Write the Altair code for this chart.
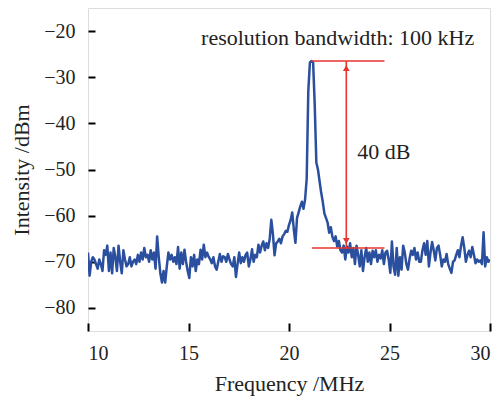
import altair as alt
import pandas as pd

intensity = [
    -68.0, -73.0, -70.0, -69.0, -69.5, -70.5, -71.5, -69.5, -70.5, -72.0, -67.5, -68.5, -66.5,
    -72.0, -68.0, -72.5, -67.0, -69.0, -72.0, -66.5, -70.0, -72.5, -67.5, -69.5, -71.0,
    -70.5, -69.0, -71.0, -70.0, -69.5, -70.5, -68.5, -70.0, -68.0, -69.5, -67.0, -69.0, -68.5,
    -70.0, -67.5, -69.5, -68.0, -71.5, -64.5, -69.0, -72.5, -74.5, -72.0, -74.5, -71.0,
    -68.0, -69.5, -68.5, -70.0, -69.0, -70.5, -66.8, -71.5, -68.0, -70.5, -67.4, -70.0, -72.0,
    -73.5, -69.0, -71.0, -68.5, -72.0, -69.5, -70.5, -67.4, -69.5, -66.3, -69.0, -68.0,
    -68.9, -69.5, -70.3, -69.0, -71.0, -71.7, -70.0, -68.3, -70.0, -68.8, -69.0, -70.0, -68.3,
    -69.5, -70.5, -71.0, -69.0, -73.3, -70.5, -68.0, -70.3, -69.0, -70.0, -68.5, -68.0,
    -71.0, -69.5, -67.3, -70.0, -68.5, -69.0, -66.3, -68.0, -66.5, -65.6, -67.5, -66.0, -67.0,
    -65.0, -60.9, -64.0, -68.6, -66.0, -65.6, -65.0, -66.0, -64.5, -64.0, -63.3, -63.5,
    -62.0, -61.0, -59.3, -63.0, -65.9, -60.5, -59.3, -58.0, -57.0, -58.5, -56.5, -52.0, -33.0,
    -26.8, -26.5, -26.8, -36.0, -48.5, -50.0, -52.5, -55.0, -57.0, -59.5, -60.5, -61.5,
    -63.7, -62.5, -64.6, -65.5, -64.5, -66.7, -65.5, -67.5, -68.0, -66.5, -69.5, -66.7, -68.0,
    -66.0, -69.0, -67.0, -70.5, -66.5, -68.5, -71.0, -67.5, -72.0, -69.0, -67.0, -70.0,
    -68.0, -70.5, -67.6, -69.0, -67.5, -70.0, -68.5, -69.3, -67.5, -70.5, -68.0, -67.6, -69.5,
    -72.4, -65.6, -71.0, -72.8, -67.0, -73.0, -69.0, -71.7, -66.5, -68.0, -70.5, -71.7,
    -69.3, -67.6, -68.5, -67.0, -69.5, -68.0, -70.0, -70.0, -67.5, -66.0, -68.5, -65.5, -71.0,
    -68.0, -65.7, -67.5, -69.7, -67.0, -66.5, -68.5, -71.0, -69.5, -70.0, -68.3, -70.5,
    -71.5, -72.4, -70.0, -69.7, -68.5, -67.5, -69.0, -66.5, -64.7, -67.0, -70.0, -68.5, -67.6,
    -69.0, -66.8, -68.5, -70.3, -69.5, -70.0, -69.7, -70.5, -63.6, -71.0, -69.0, -70.0, -69.5,
]
frequency = [round(10 + 0.08 * i, 2) for i in range(len(intensity))]

# annotation values
hline_x_start = [21.1, 21.15]
hline_x_end = [24.75, 24.75]
hline_y = [-26.5, -67.0]
arrow_x = [22.85]
arrow_y_top = [-26.5]
arrow_y_bottom = [-67.0]
head_y = [-28.0, -65.5]
head_shape = ["triangle-up", "triangle-down"]
db_text = ["40 dB"]
db_x = [23.4]
db_y = [-46.2]
rbw_text = ["resolution bandwidth: 100 kHz"]
rbw_x = [22.42]
rbw_y = [-21.6]

x_ticks = [10, 15, 20, 25, 30]
y_ticks = [-80, -70, -60, -50, -40, -30, -20]

FONT = "Liberation Serif"
RED = "#e8352f"
BLUE = "#2a4f9e"
INK = "#222222"

spec = pd.DataFrame({"f": frequency, "v": intensity})
hl = pd.DataFrame({"x": hline_x_start, "x2": hline_x_end, "y": hline_y})
ar = pd.DataFrame({"x": arrow_x, "y": arrow_y_top, "y2": arrow_y_bottom})
hd = pd.DataFrame({"x": arrow_x * 2, "y": head_y, "shape": head_shape})
tdb = pd.DataFrame({"t": db_text, "x": db_x, "y": db_y})
trb = pd.DataFrame({"t": rbw_text, "x": rbw_x, "y": rbw_y})

xs = alt.Scale(domain=[10, 30], nice=False)
ys = alt.Scale(domain=[-85, -15], nice=False)

line = alt.Chart(spec).mark_line(color=BLUE, strokeWidth=2.5, strokeJoin="round", clip=True).encode(
    x=alt.X("f:Q", scale=xs, axis=alt.Axis(
        values=x_ticks, title="Frequency /MHz", domain=False, grid=False,
        ticks=True, tickSize=alt.ExprRef("-8"), tickWidth=2, tickColor="black",
        labelPadding=20, titlePadding=10, labelFontSize=20, titleFontSize=22,
        labelFont=FONT, titleFont=FONT, labelColor=INK, titleColor=INK,
        titleFontWeight="normal")),
    y=alt.Y("v:Q", scale=ys, axis=alt.Axis(
        values=y_ticks, title="Intensity /dBm", domain=False, grid=False,
        ticks=True, tickSize=alt.ExprRef("-7"), tickWidth=2, tickColor="black",
        labelPadding=20, titlePadding=10, labelFontSize=20, titleFontSize=22,
        labelFont=FONT, titleFont=FONT, labelColor=INK, titleColor=INK,
        titleFontWeight="normal", labelExpr="replace(datum.label, '-', '\u2212')")),
)

hrules = alt.Chart(hl).mark_rule(color=RED, strokeWidth=1.6).encode(
    x="x:Q", x2="x2:Q", y="y:Q",
)

arrow = alt.Chart(ar).mark_rule(color=RED, strokeWidth=1.6).encode(
    x="x:Q", y="y:Q", y2="y2:Q",
)

heads = alt.Chart(hd).mark_point(color=RED, filled=True, opacity=1, size=45).encode(
    x="x:Q", y="y:Q",
    shape=alt.Shape("shape:N", scale=None, legend=None),
)

text_db = alt.Chart(tdb).mark_text(font=FONT, fontSize=22, color=INK, baseline="middle", align="left").encode(
    x="x:Q", y="y:Q", text="t:N",
)

text_rbw = alt.Chart(trb).mark_text(font=FONT, fontSize=22, color=INK, baseline="middle", align="center").encode(
    x="x:Q", y="y:Q", text="t:N",
)

chart = alt.layer(line, hrules, arrow, heads, text_db, text_rbw).properties(
    width=402, height=323,
    autosize=alt.AutoSizeParams(type="none"),
    padding={"left": 88, "top": 8, "right": 7, "bottom": 68},
).configure_view(stroke="black", strokeWidth=2.8).configure(background="white")

chart.save("out.html", embed_options={"renderer": "svg", "actions": False})
